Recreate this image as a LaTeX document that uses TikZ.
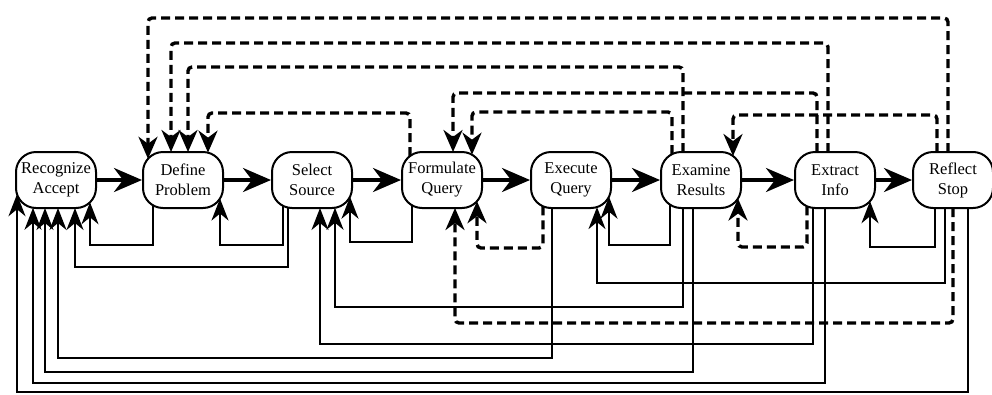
\documentclass[tikz,border=0pt]{standalone}
\usepackage{fontspec}
\setmainfont{Liberation Serif}
\usetikzlibrary{arrows.meta,calc}

% points on the rim of a box, dx from its centre
\newcommand\rimt[2]{($(#1.center)+(#2,{-bd(#2)})$)}
\newcommand\rimb[2]{($(#1.center)+(#2,{bd(#2)})$)}

\tikzset{
  box/.style={draw, line width=2pt, rounded corners=20pt, minimum width=80pt,
    minimum height=56pt, inner sep=0pt, align=center, font=\fontsize{16.5}{20}\selectfont},
  fwd/.style={line width=3.5pt, -{Stealth[length=28pt,width=24pt,inset=9pt]}},
  fb/.style={line width=2.2pt, -{Stealth[length=22pt,width=17pt,inset=7pt]}},
  dfb/.style={line width=3.4pt, dash pattern=on 9pt off 5pt, rounded corners=4pt,
    -{Stealth[length=22pt,width=19pt,inset=7pt]}}
}

\begin{document}
\begin{tikzpicture}[x=1pt, y=-1pt,
  declare function={bd(\d)=(abs(\d)<=20)*28+(abs(\d)>20)*(8+sqrt(max(0,400-(abs(\d)-20)^2)));}]
\useasboundingbox (0,0) rectangle (992,394);
\node[box] (rec)  at (56,180)  {Recognize\\Accept};
\node[box] (def)  at (183,180) {Define\\Problem};
\node[box] (sel)  at (312,180) {Select\\Source};
\node[box] (form) at (442,180) {Formulate\\Query};
\node[box] (exe)  at (571,180) {Execute\\Query};
\node[box] (exa)  at (701,180) {Examine\\Results};
\node[box] (ext)  at (835,180) {Extract\\Info};
\node[box] (ref)  at (953,180) {Reflect\\Stop};

% forward steps
\draw[fwd] (rec) -- (def);
\draw[fwd] (def) -- (sel);
\draw[fwd] (sel) -- (form);
\draw[fwd] (form) -- (exe);
\draw[fwd] (exe) -- (exa);
\draw[fwd] (exa) -- (ext);
\draw[fwd] (ext) -- (ref);

% dashed returns over the top
\draw[dfb] \rimt{ref}{-5}   coordinate (s) -- (s |- 0,18)  -| \rimt{def}{-35};
\draw[dfb] \rimt{ext}{-7}   coordinate (s) -- (s |- 0,43)  -| \rimt{def}{-12};
\draw[dfb] \rimt{exa}{-18}  coordinate (s) -- (s |- 0,67)  -| \rimt{def}{5};
\draw[dfb] \rimt{ext}{-18}  coordinate (s) -- (s |- 0,93)  -| \rimt{form}{11};
\draw[dfb] \rimt{form}{-32} coordinate (s) -- (s |- 0,113) -| \rimt{def}{25};
\draw[dfb] \rimt{exa}{-29}  coordinate (s) -- (s |- 0,112) -| \rimt{form}{30};
\draw[dfb] \rimt{ref}{-16}  coordinate (s) -- (s |- 0,115) -| \rimt{exa}{32};

% returns underneath
\draw[fb] \rimb{def}{-30}  coordinate (s) -- (s |- 0,245) -| \rimb{rec}{34};
\draw[fb] \rimb{sel}{-24}  coordinate (s) -- (s |- 0,267) -| \rimb{rec}{19};
\draw[fb] \rimb{exe}{-19}  coordinate (s) -- (s |- 0,358) -| \rimb{rec}{2};
\draw[fb] \rimb{exa}{-8}   coordinate (s) -- (s |- 0,372) -| \rimb{rec}{-11};
\draw[fb] \rimb{ext}{-10}  coordinate (s) -- (s |- 0,383) -| \rimb{rec}{-23};
\draw[fb] \rimb{ref}{15}   coordinate (s) -- (s |- 0,392) -| \rimb{rec}{-39};
\draw[fb] \rimb{sel}{-29}  coordinate (s) -- (s |- 0,245) -| \rimb{def}{37};
\draw[fb] \rimb{form}{-30} coordinate (s) -- (s |- 0,242) -| \rimb{sel}{38};
\draw[fb] \rimb{exa}{-18}  coordinate (s) -- (s |- 0,307) -| \rimb{sel}{23};
\draw[fb] \rimb{ext}{-22}  coordinate (s) -- (s |- 0,344) -| \rimb{sel}{8};
\draw[fb] \rimb{exa}{-31}  coordinate (s) -- (s |- 0,245) -| \rimb{exe}{38};
\draw[fb] \rimb{ref}{-8}   coordinate (s) -- (s |- 0,283) -| \rimb{exe}{26};
\draw[fb] \rimb{ref}{-18}  coordinate (s) -- (s |- 0,247) -| \rimb{ext}{35};
\draw[dfb] \rimb{exe}{-28} coordinate (s) -- (s |- 0,248) -| \rimb{form}{35};
\draw[dfb] \rimb{ref}{0}   coordinate (s) -- (s |- 0,323) -| \rimb{form}{13};
\draw[dfb] \rimb{ext}{-28} coordinate (s) -- (s |- 0,247) -| \rimb{exa}{37};
\end{tikzpicture}
\end{document}
